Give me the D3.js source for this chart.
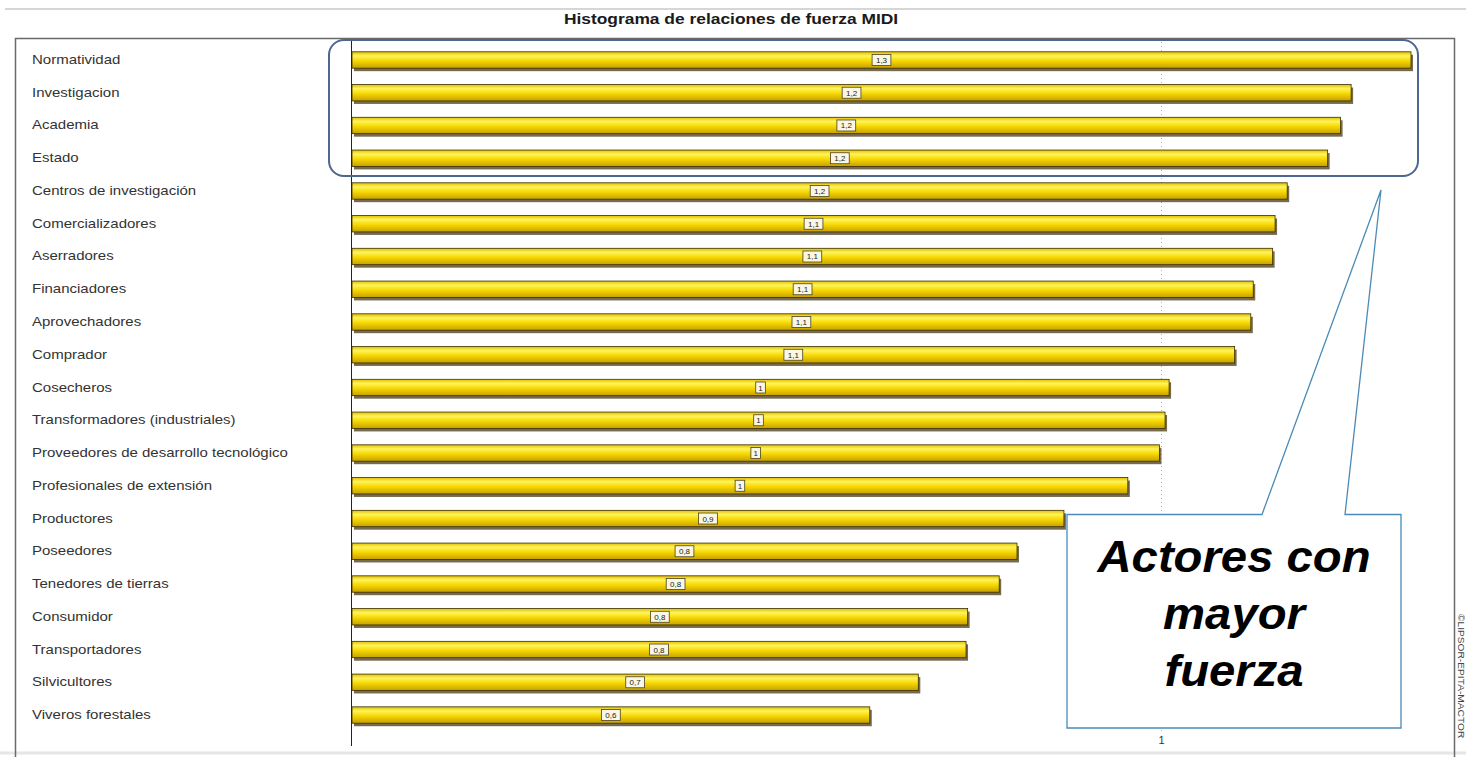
<!DOCTYPE html>
<html>
<head>
<meta charset="utf-8">
<script src="https://cdn.jsdelivr.net/npm/d3@7"></script>
<style>
  html, body { margin: 0; padding: 0; background: #ffffff; }
  svg { display: block; }
</style>
</head>
<body>
<svg id="chart" width="1466" height="757"></svg>
<script>
// ---- data ----
const categories = [
  "Normatividad", "Investigacion", "Academia", "Estado",
  "Centros de investigación", "Comercializadores", "Aserradores",
  "Financiadores", "Aprovechadores", "Comprador", "Cosecheros",
  "Transformadores (industriales)", "Proveedores de desarrollo tecnológico",
  "Profesionales de extensión", "Productores", "Poseedores",
  "Tenedores de tierras", "Consumidor", "Transportadores",
  "Silvicultores", "Viveros forestales"
];
const values = [
  1.309, 1.235, 1.222, 1.206,
  1.156, 1.141, 1.138,
  1.114, 1.111, 1.091, 1.010,
  1.005, 0.998,
  0.959, 0.880, 0.822,
  0.800, 0.761, 0.759,
  0.700, 0.640
];
const tickValues = [1];
const titleText = "Histograma de relaciones de fuerza MIDI";
const calloutLines = ["Actores con", "mayor", "fuerza"];
const sideText = "©LIPSOR-EPITA-MACTOR";

const data = categories.map((c, i) => ({ name: c, value: values[i] }));
const fmtLabel = v => String(Math.round(v * 10) / 10).replace(".", ",");

// ---- layout ----
const svg = d3.select("#chart");
const x = d3.scaleLinear().domain([0, 1]).range([352, 1161]);
const y = d3.scaleBand().domain(categories).range([43.6, 731.4]).paddingInner(0.5).paddingOuter(0.25);
const FONT = "Liberation Sans, Arial, sans-serif";

const defs = svg.append("defs");
const grad = defs.append("linearGradient").attr("id", "barGrad")
  .attr("x1", 0).attr("y1", 0).attr("x2", 0).attr("y2", 1);
grad.append("stop").attr("offset", "0%").attr("stop-color", "#e0c000");
grad.append("stop").attr("offset", "25%").attr("stop-color", "#fff45c");
grad.append("stop").attr("offset", "55%").attr("stop-color", "#f7d800");
grad.append("stop").attr("offset", "100%").attr("stop-color", "#c7a000");

// top gray line
svg.append("line").attr("x1", 5).attr("x2", 1466).attr("y1", 9).attr("y2", 9)
  .attr("stroke", "#c8c8c8").attr("stroke-width", 1.5);
svg.append("line").attr("x1", 0).attr("x2", 1466).attr("y1", 753).attr("y2", 753)
  .attr("stroke", "#e6e6e6").attr("stroke-width", 3);

// title (horizontally stretched like the reference)
svg.append("g").attr("transform", "translate(731,24) scale(1.2,1)")
  .append("text").attr("text-anchor", "middle")
  .attr("font-family", FONT).attr("font-weight", "bold")
  .attr("font-size", 14.5).attr("fill", "#1a1a1a").text(titleText);

// frame
svg.append("rect").attr("x", 15.5).attr("y", 38.5).attr("width", 1439).attr("height", 740)
  .attr("fill", "none").attr("stroke", "#6a6a6a").attr("stroke-width", 1.5);

// dotted gridline
svg.selectAll(".grid").data(tickValues).join("line")
  .attr("x1", d => x(d) + 0.5).attr("x2", d => x(d) + 0.5)
  .attr("y1", 42).attr("y2", 732)
  .attr("stroke", "#b0b0b0").attr("stroke-dasharray", "1,3").attr("stroke-width", 1);

// category labels
svg.selectAll(".cat").data(data).join("g")
  .attr("transform", d => `translate(32,${y(d.name) + y.bandwidth() / 2 + 4}) scale(1.2,1)`)
  .append("text")
  .attr("font-family", FONT).attr("font-size", 12.5)
  .attr("fill", "#333").text(d => d.name);

// bar shadows
svg.selectAll(".shadow").data(data).join("rect")
  .attr("x", x(0) + 2).attr("y", d => y(d.name) + 3)
  .attr("width", d => x(d.value) - x(0)).attr("height", y.bandwidth())
  .attr("fill", "#5e5030").attr("opacity", 0.85);

// bars
svg.selectAll(".bar").data(data).join("rect")
  .attr("x", x(0)).attr("y", d => y(d.name))
  .attr("width", d => x(d.value) - x(0)).attr("height", y.bandwidth())
  .attr("fill", "url(#barGrad)").attr("stroke", "#3b3000").attr("stroke-width", 0.8);

// value labels
const lab = svg.selectAll(".vlab").data(data).join("g")
  .attr("transform", d => `translate(${(x(0) + x(d.value)) / 2},${y(d.name) + y.bandwidth() / 2})`);
lab.append("rect")
  .attr("x", d => -(fmtLabel(d.value).length * 2.3 + 2.5)).attr("y", -5.5)
  .attr("width", d => fmtLabel(d.value).length * 4.6 + 5).attr("height", 11)
  .attr("fill", "#fbf7e4").attr("stroke", "#4a4020").attr("stroke-width", 0.8);
lab.append("text").attr("text-anchor", "middle").attr("y", 3)
  .attr("font-family", FONT).attr("font-size", 8)
  .attr("fill", "#222").text(d => fmtLabel(d.value));

// axis baseline
svg.append("line").attr("x1", x(0) - 0.5).attr("x2", x(0) - 0.5).attr("y1", 40).attr("y2", 746)
  .attr("stroke", "#222").attr("stroke-width", 1);

// bottom axis (tick label only)
const axis = svg.append("g").attr("transform", "translate(0,733)")
  .call(d3.axisBottom(x).tickValues(tickValues).tickSize(0).tickPadding(3).tickFormat(d3.format("d")));
axis.select(".domain").remove();
axis.selectAll("text").attr("font-family", FONT)
  .attr("font-size", 11).attr("fill", "#333");

// rounded highlight rect
svg.append("rect").attr("x", 329).attr("y", 40).attr("width", 1089).attr("height", 136)
  .attr("rx", 15).attr("ry", 15)
  .attr("fill", "none").attr("stroke", "#4d6790").attr("stroke-width", 2);

// callout box with pointer
svg.append("path")
  .attr("d", "M1067,514.5 L1262,514.5 L1381,190 L1345,514.5 L1401,514.5 L1401,728 L1067,728 Z")
  .attr("fill", "#ffffff").attr("stroke", "#4a8ab8").attr("stroke-width", 1.3);

svg.append("g").selectAll("g").data(calloutLines).join("g")
  .attr("transform", (d, i) => `translate(1234,${572 + i * 57}) scale(1.05,1)`)
  .append("text")
  .attr("text-anchor", "middle")
  .attr("font-family", FONT)
  .attr("font-weight", "bold").attr("font-style", "italic").attr("font-size", 45)
  .attr("fill", "#000").text(d => d);

// side copyright text (reads top to bottom)
svg.append("text").attr("transform", "translate(1457.5,614) rotate(90) scale(1.2,1)")
  .attr("font-family", FONT).attr("font-size", 8.5)
  .attr("fill", "#444").text(sideText);
</script>
</body>
</html>
